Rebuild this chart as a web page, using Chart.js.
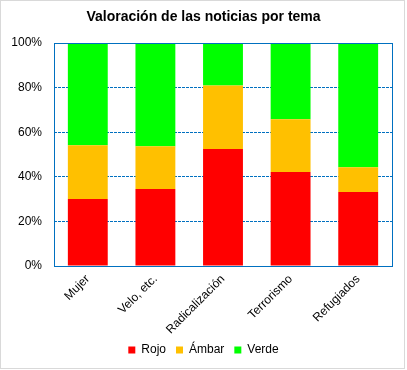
<!DOCTYPE html>
<html>
<head>
<meta charset="utf-8">
<script src="https://cdn.jsdelivr.net/npm/chart.js@4.4.0/dist/chart.umd.min.js"></script>
<style>
html,body{margin:0;padding:0;background:#fff;}
#wrap{width:407px;height:370px;position:relative;}
</style>
</head>
<body>
<div id="wrap"><canvas id="c" width="407" height="370"></canvas></div>
<script>
const categories = ["Mujer", "Velo, etc.", "Radicalización", "Terrorismo", "Refugiados"];
const rojo  = [30.0, 34.5, 52.5, 42.1, 33.2];
const ambar = [24.2, 19.2, 28.4, 23.7, 11.1];
const verde = [45.8, 46.3, 19.1, 34.2, 55.7];
const yTicks = [0, 20, 40, 60, 80, 100];

const FONT = "'Liberation Sans', Arial, sans-serif";

const frame = {
  id: 'frame',
  beforeDraw(chart) {
    const ctx = chart.ctx;
    ctx.save();
    ctx.fillStyle = '#fff';
    ctx.fillRect(0, 0, chart.width, chart.height);
    ctx.strokeStyle = '#d9d9d9';
    ctx.lineWidth = 1;
    ctx.strokeRect(0.5, 0.5, 404, 368);
    ctx.restore();
  },
  afterDatasetsDraw(chart) {
    const a = chart.chartArea;
    const ctx = chart.ctx;
    ctx.save();
    ctx.strokeStyle = '#0070C0';
    ctx.lineWidth = 1;
    ctx.strokeRect(Math.round(a.left) + 0.5, Math.round(a.top) + 0.5,
      Math.round(a.right) - Math.round(a.left), Math.round(a.bottom) - Math.round(a.top));
    ctx.restore();
  }
};

new Chart(document.getElementById('c'), {
  type: 'bar',
  data: {
    labels: categories,
    datasets: [
      { label: 'Rojo', data: rojo, backgroundColor: '#FF0000' },
      { label: 'Ámbar', data: ambar, backgroundColor: '#FFC000' },
      { label: 'Verde', data: verde, backgroundColor: '#00FF00' }
    ]
  },
  options: {
    responsive: false,
    animation: false,
    devicePixelRatio: 1,
    layout: { padding: { left: 8, right: 8, top: 0, bottom: 4 } },
    datasets: { bar: { categoryPercentage: 1.0, barPercentage: 0.59, borderWidth: 0 } },
    plugins: {
      title: {
        display: true,
        text: 'Valoración de las noticias por tema',
        color: '#000',
        font: { family: FONT, size: 14, weight: 'bold', lineHeight: 1.2 },
        padding: { top: 9, bottom: 17.2 }
      },
      legend: {
        position: 'bottom',
        labels: {
          boxWidth: 7, boxHeight: 7, padding: 10, color: '#000',
          font: { family: FONT, size: 12 }
        }
      },
      tooltip: { enabled: false }
    },
    scales: {
      x: {
        stacked: true,
        grid: { display: false, drawTicks: false },
        border: { display: false },
        ticks: {
          color: '#000', font: { family: FONT, size: 12 },
          minRotation: 45, maxRotation: 45, padding: 6
        },
        afterFit(s) { s.height = 68; }
      },
      y: {
        stacked: true,
        min: 0, max: 100,
        afterBuildTicks(s) { s.ticks = yTicks.map(v => ({ value: v })); },
        grid: {
          color: '#0070C0', lineWidth: 1, drawTicks: false
        },
        border: { display: false, dash: [3, 1] },
        ticks: {
          color: '#000', font: { family: FONT, size: 12 }, padding: 12,
          callback: v => v + '%'
        },
        afterFit(s) { s.width = 46; }
      },
      yR: {
        position: 'right',
        display: true,
        grid: { display: false, drawTicks: false },
        border: { display: false },
        ticks: { display: false },
        afterFit(s) { s.width = 7; }
      }
    }
  },
  plugins: [frame]
});
</script>
</body>
</html>
